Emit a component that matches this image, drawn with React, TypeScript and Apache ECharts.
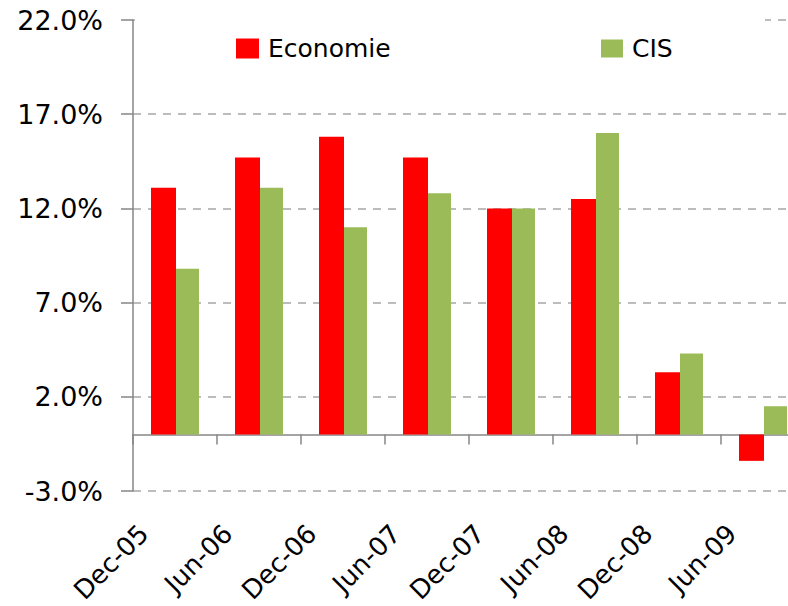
import React, { useEffect, useRef } from "react";
import * as echarts from "echarts";

const categories = ["Dec-05", "Jun-06", "Dec-06", "Jun-07", "Dec-07", "Jun-08", "Dec-08", "Jun-09"];
const economieValues = [13.1, 14.7, 15.8, 14.7, 12.0, 12.5, 3.3, -1.4];
const cisValues = [8.8, 13.1, 11.0, 12.8, 12.0, 16.0, 4.3, 1.5];
const yMin = -3;
const yMax = 22;
const yStep = 5;

const FONT = "DejaVu Sans";

export default function App() {
  const ref = useRef<HTMLDivElement>(null);
  useEffect(() => {
    if (!ref.current) return;
    const chart = echarts.init(ref.current, null, { renderer: "svg" });
    chart.setOption({
      animation: false,
      backgroundColor: "#ffffff",
      grid: { left: 133, right: -17, top: 20, bottom: 115, containLabel: false, outerBoundsMode: "none" },
      legend: [
        {
          data: ["Economie"],
          left: 236,
          top: 36,
          itemWidth: 23,
          itemHeight: 20,
          icon: "rect",
          padding: 0,
          textStyle: { fontFamily: FONT, fontSize: 25, color: "#000", padding: [0, 0, 0, 4] },
        },
        {
          data: ["CIS"],
          left: 601,
          top: 36,
          itemWidth: 22,
          itemHeight: 18,
          icon: "rect",
          padding: 0,
          textStyle: { fontFamily: FONT, fontSize: 25, color: "#000", padding: [0, 0, 0, 4] },
        },
      ],
      graphic: [
        {
          type: "rect",
          shape: { x: 135, y: 16, width: 630, height: 8 },
          style: { fill: "#ffffff" },
          z: 10,
        },
      ],
      xAxis: {
        type: "category",
        data: categories,
        axisLine: { onZero: true, lineStyle: { color: "#868686", width: 1.5 } },
        axisTick: { show: true, length: 10, lineStyle: { color: "#868686", width: 1.5 } },
        axisLabel: {
          rotate: 45,
          margin: 7,
          padding: [0, 44, 0, 0],
          fontFamily: FONT,
          fontSize: 26,
          lineHeight: 22,
          color: "#000",
          interval: 0,
        },
        splitLine: { show: false },
      },
      yAxis: {
        type: "value",
        min: yMin,
        max: yMax,
        interval: yStep,
        axisLine: { show: true, lineStyle: { color: "#868686", width: 1.5 } },
        axisTick: { show: true, length: 12, lineStyle: { color: "#868686", width: 1.5 } },
        axisLabel: {
          margin: 30,
          fontFamily: FONT,
          fontSize: 27,
          color: "#000",
          formatter: (v: number) => v.toFixed(1) + "%",
        },
        splitLine: { show: true, lineStyle: { color: "#a6a6a6", type: [8, 7], width: 1.5 } },
      },
      series: [
        {
          name: "Economie",
          type: "bar",
          data: economieValues,
          barWidth: 25,
          barGap: "0%",
          itemStyle: { color: "#ff0000" },
        },
        {
          name: "CIS",
          type: "bar",
          data: cisValues,
          barWidth: 23,
          barGap: "0%",
          itemStyle: { color: "#9bbb59" },
        },
      ],
    });
    return () => chart.dispose();
  }, []);
  return (
    <div
      ref={ref}
      style={{ position: "fixed", left: 0, top: 0, width: 788, height: 606 }}
    />
  );
}
